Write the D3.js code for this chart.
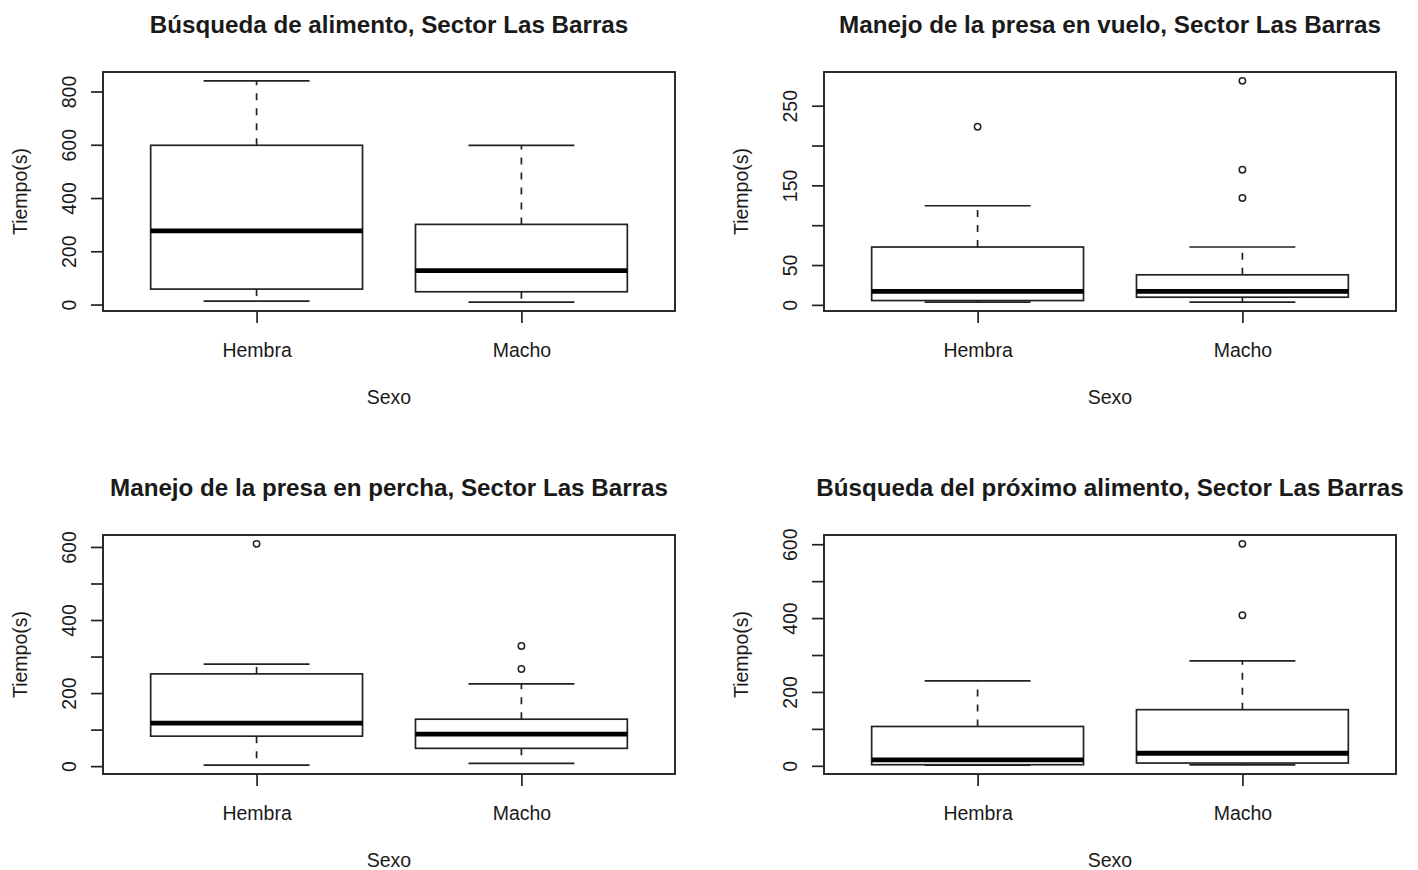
<!DOCTYPE html>
<html>
<head>
<meta charset="utf-8">
<script src="https://cdn.jsdelivr.net/npm/d3@7"></script>
<style>
  body { margin: 0; background: #fff; }
  text { font-family: "Liberation Sans", Arial, sans-serif; fill: #1a1a1a; }
</style>
</head>
<body>
<div id="chart"></div>
<script>
// categories
var sexes = ["Hembra", "Macho"];

var titles = [
    "Búsqueda de alimento, Sector Las Barras",
    "Manejo de la presa en vuelo, Sector Las Barras",
    "Manejo de la presa en percha, Sector Las Barras",
    "Búsqueda del próximo alimento, Sector Las Barras"
];

// box stats per sex: [lower whisker, Q1, median, Q3, upper whisker]
var busquedaStats = [[13, 58, 277, 598, 840], [9, 48, 127, 301, 598]];
var busquedaOutliers = [[], []];

var vueloStats = [[3.4, 5.4, 17, 72.6, 124.4], [3.4, 9.6, 17, 37.7, 72.6]];
var vueloOutliers = [[223.5], [281.2, 169.6, 134.2]];

var perchaStats = [[2.7, 82, 118, 252.5, 279], [7.5, 48.7, 87.5, 128.5, 225]];
var perchaOutliers = [[608.5], [329, 266]];

var proximoStats = [[1.8, 3, 16, 106.5, 230], [2.5, 7.5, 34, 152, 284]];
var proximoOutliers = [[], [601, 407.5]];

// y tick values and labels (R drops labels that would overlap)
var busquedaTicks = [0, 200, 400, 600, 800];
var busquedaTickLabels = ["0", "200", "400", "600", "800"];
var vueloTicks = [0, 50, 100, 150, 200, 250];
var vueloTickLabels = ["0", "50", "", "150", "", "250"];
var perchaTicks = [0, 100, 200, 300, 400, 500, 600];
var perchaTickLabels = ["0", "", "200", "", "400", "", "600"];
var proximoTicks = [0, 100, 200, 300, 400, 500, 600];
var proximoTickLabels = ["0", "", "200", "", "400", "", "600"];

var xLabel = "Sexo";
var yLabel = "Tiempo(s)";

var panels = [
    {title: titles[0], stats: busquedaStats, out: busquedaOutliers, ticks: busquedaTicks, labels: busquedaTickLabels},
    {title: titles[1], stats: vueloStats, out: vueloOutliers, ticks: vueloTicks, labels: vueloTickLabels},
    {title: titles[2], stats: perchaStats, out: perchaOutliers, ticks: perchaTicks, labels: perchaTickLabels},
    {title: titles[3], stats: proximoStats, out: proximoOutliers, ticks: proximoTicks, labels: proximoTickLabels}
];

var W = 1418, H = 870;
var frameW = 572, frameH = 239;
var colX = [103, 824], rowY = [72, 535];
var ink = "#222";

var svg = d3.select("#chart").append("svg")
    .attr("width", W)
    .attr("height", H);

panels.forEach(function (p, i) {
    var g = svg.append("g")
        .attr("transform", "translate(" + colX[i % 2] + "," + rowY[Math.floor(i / 2)] + ")");

    // R style ranges: extended by 4% each side
    var x = d3.scaleLinear().domain([0.42, 2.58]).range([0, frameW]);
    var all = [];
    p.stats.forEach(function (s, k) { all = all.concat(s, p.out[k]); });
    var ext = d3.extent(all), pad = (ext[1] - ext[0]) * 0.04;
    var y = d3.scaleLinear().domain([ext[0] - pad, ext[1] + pad]).range([frameH, 0]);

    // y axis
    var yAxis = g.append("g")
        .call(d3.axisLeft(y).tickValues(p.ticks).tickSize(12)
            .tickFormat(function (d, j) { return p.labels[j]; }));
    yAxis.select(".domain").remove();
    yAxis.selectAll("line").attr("stroke", ink).attr("stroke-width", 1.7);
    yAxis.selectAll("text")
        .attr("x", null).attr("dy", null)
        .attr("transform", "translate(-27,0) rotate(-90)")
        .attr("text-anchor", "middle")
        .style("font-size", "19.5px")
        .style("font-family", "'Liberation Sans', Arial, sans-serif")
        .attr("fill", "#1a1a1a");

    // x axis
    var xAxis = g.append("g")
        .attr("transform", "translate(0," + frameH + ")")
        .call(d3.axisBottom(x).tickValues([1, 2]).tickSize(12)
            .tickFormat(function (d) { return sexes[d - 1]; }));
    xAxis.select(".domain").remove();
    xAxis.selectAll("line").attr("stroke", ink).attr("stroke-width", 1.7);
    xAxis.selectAll("text")
        .attr("y", 46).attr("dy", null)
        .style("font-size", "19.5px")
        .style("font-family", "'Liberation Sans', Arial, sans-serif")
        .attr("fill", "#1a1a1a");

    // boxes
    p.stats.forEach(function (s, k) {
        var cx = x(k + 1);
        var bw = x(k + 1.4) - x(k + 0.6);
        var bx = g.append("g");
        // whiskers (dashed)
        bx.append("line")
            .attr("x1", cx).attr("x2", cx)
            .attr("y1", y(s[3])).attr("y2", y(s[4]))
            .attr("stroke", ink).attr("stroke-width", 1.7)
            .attr("stroke-dasharray", "7,8");
        bx.append("line")
            .attr("x1", cx).attr("x2", cx)
            .attr("y1", y(s[1])).attr("y2", y(s[0]))
            .attr("stroke", ink).attr("stroke-width", 1.7)
            .attr("stroke-dasharray", "7,8");
        // staples
        [s[0], s[4]].forEach(function (v) {
            bx.append("line")
                .attr("x1", x(k + 0.8)).attr("x2", x(k + 1.2))
                .attr("y1", y(v)).attr("y2", y(v))
                .attr("stroke", ink).attr("stroke-width", 1.7);
        });
        // box
        bx.append("rect")
            .attr("x", x(k + 0.6)).attr("width", bw)
            .attr("y", y(s[3])).attr("height", y(s[1]) - y(s[3]))
            .attr("fill", "#fff")
            .attr("stroke", ink).attr("stroke-width", 1.7);
        // median
        bx.append("line")
            .attr("x1", x(k + 0.6)).attr("x2", x(k + 1.4))
            .attr("y1", y(s[2])).attr("y2", y(s[2]))
            .attr("stroke", "#000").attr("stroke-width", 4.8);
        // outliers
        bx.selectAll("circle")
            .data(p.out[k])
            .enter().append("circle")
            .attr("cx", cx)
            .attr("cy", function (d) { return y(d); })
            .attr("r", 3.2)
            .attr("fill", "none")
            .attr("stroke", ink).attr("stroke-width", 1.5);
    });

    // frame
    g.append("rect")
        .attr("width", frameW).attr("height", frameH)
        .attr("fill", "none")
        .attr("stroke", ink).attr("stroke-width", 1.9);

    // labels
    g.append("text")
        .attr("x", frameW / 2).attr("y", -39)
        .attr("text-anchor", "middle")
        .style("font-size", "24.2px").style("font-weight", "bold")
        .text(p.title);
    g.append("text")
        .attr("x", frameW / 2).attr("y", frameH + 93)
        .attr("text-anchor", "middle")
        .style("font-size", "19.5px")
        .text(xLabel);
    g.append("text")
        .attr("transform", "translate(-76," + (frameH / 2) + ") rotate(-90)")
        .attr("text-anchor", "middle")
        .style("font-size", "19.5px")
        .text(yLabel);
});
</script>
</body>
</html>
